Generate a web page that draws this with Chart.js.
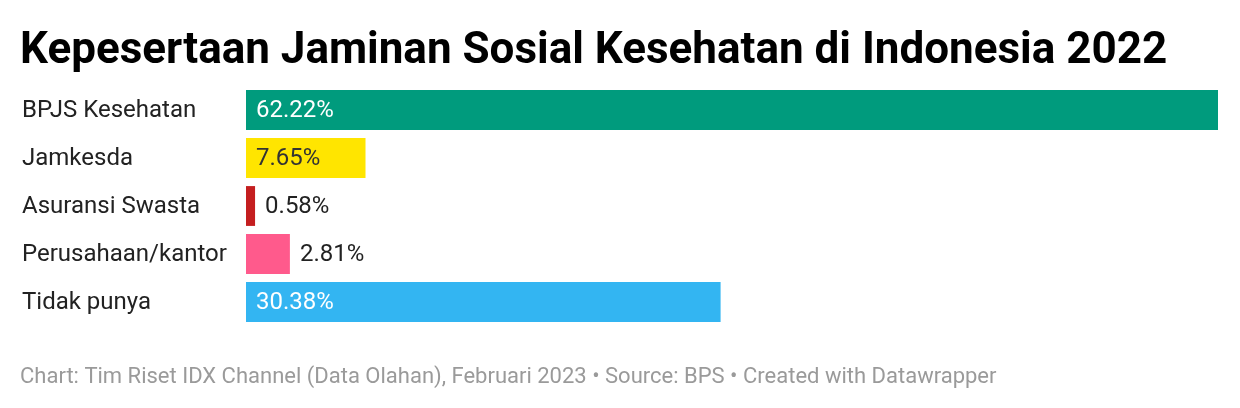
<!DOCTYPE html>
<html><head><meta charset="utf-8">
<script src="https://cdn.jsdelivr.net/npm/chart.js@4"></script>
<style>html,body{margin:0;padding:0;background:#fff}#w{width:1240px;height:408px;position:relative}</style>
</head><body><div id="w"><canvas id="c"></canvas></div>
<script>
const categories = ["BPJS Kesehatan","Jamkesda","Asuransi Swasta","Perusahaan/kantor","Tidak punya"];
const values = [62.22,7.65,0.58,2.81,30.38];
const colors = ["#009b7d","#ffe500","#c41e1f","#ff5a8c","#33b5f2"];
const labelColors = ["#ffffff","#333333","#222222","#222222","#ffffff"];
const insideLabel = [true,true,false,false,true];
const title = "Kepesertaan Jaminan Sosial Kesehatan di Indonesia 2022";
const footer = "Chart: Tim Riset IDX Channel (Data Olahan), Februari 2023 • Source: BPS • Created with Datawrapper";

const deco = {
  id:'deco',
  afterDatasetsDraw(chart){
    const ctx = chart.ctx;
    ctx.save();
    ctx.fillStyle = '#000';
    ctx.font = 'bold 44px Roboto';
    ctx.textBaseline = 'alphabetic';
    ctx.fillText(title, 20, 63);
    ctx.fillStyle = '#9a9a9a';
    ctx.font = '22px Roboto';
    ctx.fillText(footer, 20, 383);
    const meta = chart.getDatasetMeta(0);
    ctx.textBaseline = 'middle';
    meta.data.forEach((bar,i)=>{
      ctx.font = '24px Roboto';
      ctx.fillStyle = '#222';
      ctx.fillText(categories[i], 22, bar.y+1);
      const t = values[i].toFixed(2)+'%';
      ctx.fillStyle = labelColors[i];
      const x = insideLabel[i] ? bar.base + 10 : bar.x + 10;
      ctx.fillText(t, x, bar.y+1);
    });
    ctx.restore();
  }
};

new Chart(document.getElementById('c'), {
  type:'bar',
  data:{labels:categories,datasets:[{data:values,backgroundColor:colors,barPercentage:0.83,categoryPercentage:1}]},
  options:{
    indexAxis:'y',responsive:true,maintainAspectRatio:false,animation:false,
    layout:{padding:{left:246,right:22,top:86,bottom:82}},
    plugins:{legend:{display:false},tooltip:{enabled:false}},
    scales:{x:{display:false,min:0,max:62.22},y:{display:false}}
  },
  plugins:[deco]
});
</script></body></html>
